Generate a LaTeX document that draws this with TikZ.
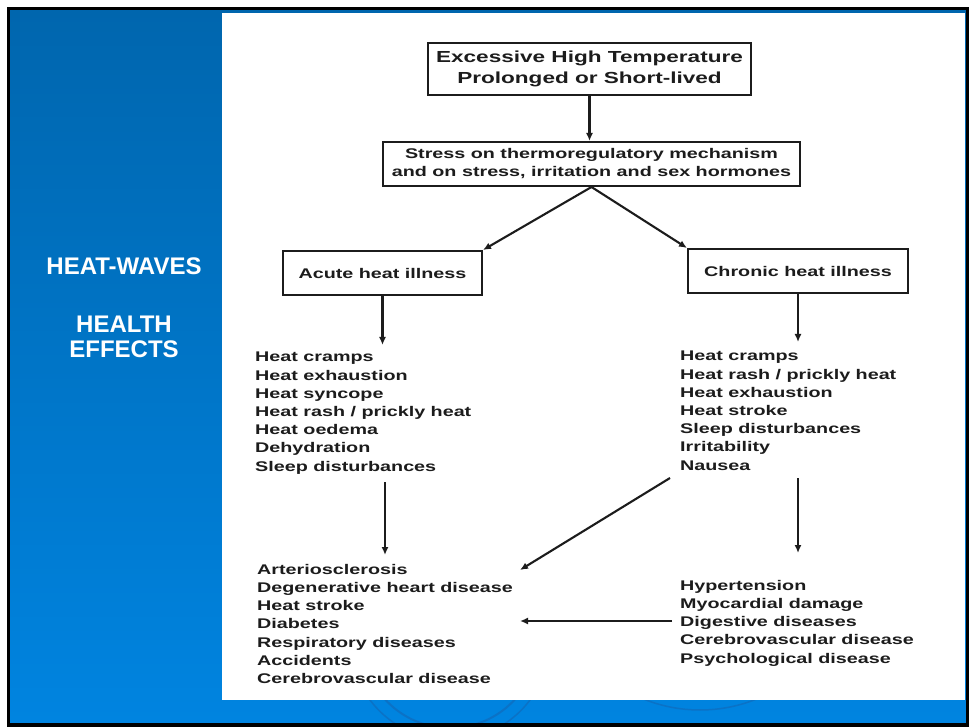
\documentclass[tikz,border=0pt]{standalone}
\usepackage{fontspec}
\setmainfont{Liberation Sans}
\newfontfamily\scanfont{Liberation Sans}[FakeStretch=1.41]
\usetikzlibrary{arrows.meta}
\definecolor{slidetop}{HTML}{0066AE}
\definecolor{slidebot}{HTML}{0084E0}
\definecolor{swirl}{HTML}{0B72C6}
\definecolor{ink}{HTML}{1C1C1C}
\tikzset{
  box/.style={draw=ink, line width=2pt, fill=white, inner sep=0pt, align=center,
    text=ink, font=\scanfont\bfseries\fontsize{14}{18}\selectfont},
  listtext/.style={anchor=north west, inner sep=0pt, align=left, text=ink,
    font=\scanfont\bfseries\fontsize{14}{18.2}\selectfont},
  link/.style={draw=ink, line width=2.1pt, -{Latex[length=8pt,width=7pt]}},
  sidetext/.style={text=white, inner sep=0pt, align=center,
    font=\bfseries\fontsize{24}{25}\selectfont}
}
\begin{document}
\begin{tikzpicture}[x=1pt, y=-1pt]
  \useasboundingbox (0,0) rectangle (970,727);
  \fill[white] (0,0) rectangle (970,727);

  % slide background
  \shade[top color=slidetop, middle color=slidetop!80!slidebot, bottom color=slidebot]
    (10,10) rectangle (966,723);
  \begin{scope}
    \clip (222,700) rectangle (966,723);
    \draw[swirl, line width=2pt] (450,640) circle (88);
    \draw[swirl, line width=1.5pt] (450,640) circle (100);
    \draw[swirl, line width=1.5pt] (700,560) circle (150);
  \end{scope}
  \draw[black, line width=3.5pt] (8.5,8.5) rectangle (967.5,725);

  % white content panel
  \fill[white] (222,13) rectangle (965,700);

  % side title
  \node[sidetext, anchor=base] (title) at (124,275) {HEAT-WAVES};
  \node[sidetext, anchor=north] (subtitle) at (124,316) {HEALTH\\EFFECTS};

  % boxes
  \node[box, minimum width=323pt, minimum height=52pt,
        font=\scanfont\bfseries\fontsize{16}{21}\selectfont] (hot) at (589.5,69)
    {Excessive High Temperature\\Prolonged or Short-lived};
  \node[box, minimum width=417pt, minimum height=44pt] (stress) at (591.5,164)
    {Stress on thermoregulatory mechanism\\and on stress, irritation and sex hormones};
  \node[box, minimum width=199pt, minimum height=44pt] (acute) at (382.5,273)
    {Acute heat illness};
  \node[box, minimum width=220pt, minimum height=44pt] (chronic) at (798,271)
    {Chronic heat illness};

  % symptom lists
  \node[listtext] (alist) at (255,352)
    {Heat cramps\\Heat exhaustion\\Heat syncope\\Heat rash / prickly heat\\Heat oedema\\Dehydration\\Sleep disturbances};
  \node[listtext] (clist) at (680,351)
    {Heat cramps\\Heat rash / prickly heat\\Heat exhaustion\\Heat stroke\\Sleep disturbances\\Irritability\\Nausea};
  \node[listtext] (blist) at (257,564)
    {Arteriosclerosis\\Degenerative heart disease\\Heat stroke\\Diabetes\\Respiratory diseases\\Accidents\\Cerebrovascular disease};
  \node[listtext] (rlist) at (680,580)
    {Hypertension\\Myocardial damage\\Digestive diseases\\Cerebrovascular disease\\Psychological disease};

  % free connector ends
  \coordinate (a1) at (382.5,345);
  \coordinate (a2) at (385,482);
  \coordinate (a3) at (385,555);
  \coordinate (c1) at (798,342);
  \coordinate (c2) at (798,478);
  \coordinate (c3) at (798,553);
  \coordinate (d1) at (670,478);
  \coordinate (d2) at (520,570);
  \coordinate (h1) at (672,621);
  \coordinate (h2) at (520,621);

  % connectors
  \draw[link] (hot.south) -- (hot.south |- stress.north);
  \draw[link] (stress.south) -- (acute.north east);
  \draw[link] (stress.south) -- (chronic.north west);
  \draw[link] (acute.south) -- (a1);
  \draw[link] (chronic.south) -- (c1);
  \draw[link] (a2) -- (a3);
  \draw[link] (c2) -- (c3);
  \draw[link] (d1) -- (d2);
  \draw[link] (h1) -- (h2);
\end{tikzpicture}
\end{document}
